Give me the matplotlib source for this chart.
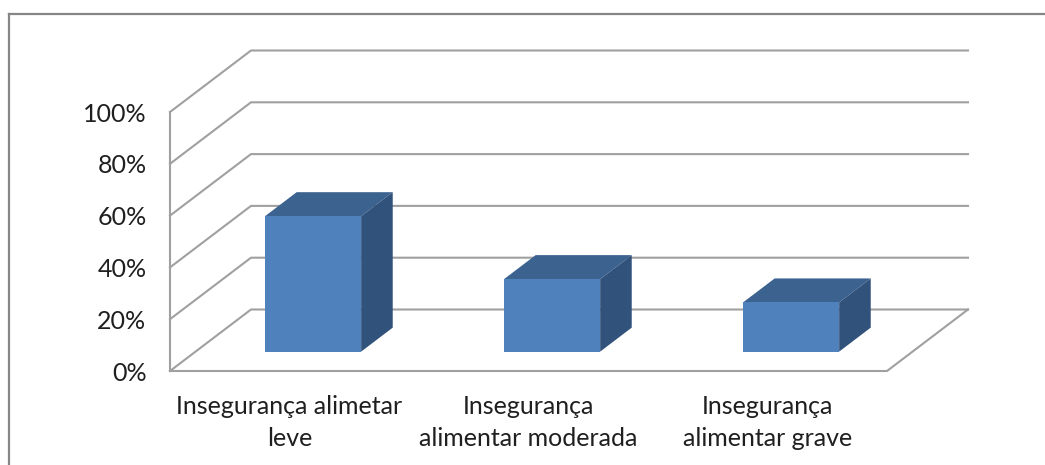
# barras 3d de inseguranca alimentar, desenhadas a mao com poligonos

import matplotlib
matplotlib.use('Agg')
import matplotlib.pyplot as plt
from matplotlib.lines import Line2D
from matplotlib.patches import Polygon

plt.rcParams['font.family'] = ['Lato', 'DejaVu Sans']

categorias = ['Insegurança alimetar\nleve', 'Insegurança\nalimentar moderada', 'Insegurança\nalimentar grave']
valores = [52.3, 28, 19]
ticks_y = [0, 20, 40, 60, 80, 100]
ticks_labels = ['0%', '20%', '40%', '60%', '80%', '100%']

W, H = 1045, 465
fig = plt.figure(figsize=(W / 100, H / 100), dpi=100)
fig.patch.set_facecolor('white')

# plano frontal do grafico
ax = fig.add_axes([170 / W, (H - 371) / H, 717 / W, 259 / H])
ax.set_xlim(0, 3)
ax.set_ylim(0, 100)
for s in ax.spines.values():
    s.set_visible(False)

# deslocamento da profundidade em unidades de dados
prof_x = 81 / 717 * 3
prof_y = 61.5 / 259 * 100
cor_grade = '#a0a0a0'
lw_grade = 1.5

for v in ticks_y:
    ax.plot([0, prof_x, 3 + prof_x], [v, v + prof_y, v + prof_y], color=cor_grade, lw=lw_grade,
            clip_on=False, solid_joinstyle='miter', zorder=1)
ax.plot([0, 0], [0, 100], color=cor_grade, lw=lw_grade, clip_on=False, zorder=1)
ax.plot([0, 3, 3 + prof_x], [0, 0, prof_y], color=cor_grade, lw=lw_grade, clip_on=False,
        solid_joinstyle='miter', zorder=1)

# barras: frente, topo e lateral
larg = 0.402
f0 = 0.315  # fracao da profundidade onde fica a frente da barra
f1 = 0.705
for i, v in enumerate(valores):
    x0 = i + 0.5 - larg / 2 + f0 * prof_x - 0.008
    x1 = x0 + larg
    y0 = f0 * prof_y
    y1 = y0 + v
    dx = (f1 - f0) * prof_x
    dy = (f1 - f0) * prof_y
    ax.add_patch(Polygon([(x0, y1), (x1, y1), (x1 + dx, y1 + dy), (x0 + dx, y1 + dy)],
                         facecolor='#3c628f', edgecolor='none', clip_on=False, zorder=3))
    ax.add_patch(Polygon([(x1, y0), (x1 + dx, y0 + dy), (x1 + dx, y1 + dy), (x1, y1)],
                         facecolor='#30527b', edgecolor='none', clip_on=False, zorder=3))
    ax.add_patch(Polygon([(x0, y0), (x1, y0), (x1, y1), (x0, y1)],
                         facecolor='#4f81bd', edgecolor='none', clip_on=False, zorder=4))

ax.set_yticks(ticks_y)
ax.set_yticklabels(ticks_labels)
ax.set_xticks([0.5, 1.5, 2.5])
ax.set_xticklabels(categorias, linespacing=1.48)
ax.tick_params(axis='y', length=0, pad=17, labelsize=18, labelcolor='#1f1f1f')
ax.tick_params(axis='x', length=0, pad=17, labelsize=18, labelcolor='#1f1f1f')

# moldura cortada: so topo e esquerda aparecem
cor_moldura = '#868686'
fig.add_artist(Line2D([8.5 / W, 1], [1 - 14.5 / H, 1 - 14.5 / H], color=cor_moldura, lw=1.6))
fig.add_artist(Line2D([8.5 / W, 8.5 / W], [0, 1 - 14.5 / H], color=cor_moldura, lw=1.6))

fig.savefig('out.png', dpi=100)
plt.close()
